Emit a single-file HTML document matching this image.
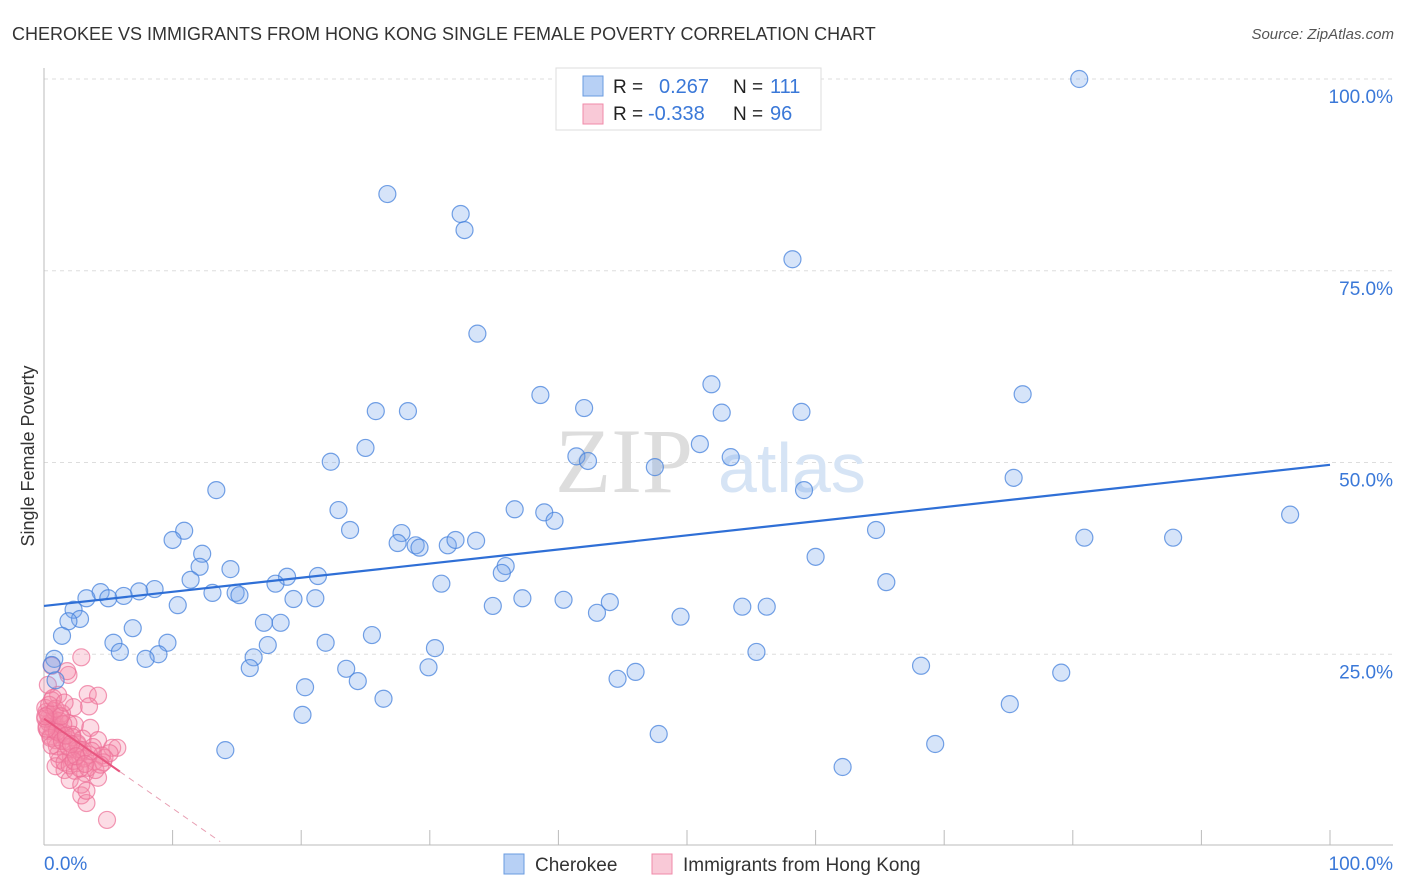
<!DOCTYPE html>
<html><head><meta charset="utf-8"><style>
body{margin:0;background:#fff;font-family:"Liberation Sans",sans-serif;}
svg{display:block}
</style></head><body>
<svg id="chart" width="1406" height="892">
<text x="12" y="40" font-size="18" fill="#333">CHEROKEE VS IMMIGRANTS FROM HONG KONG SINGLE FEMALE POVERTY CORRELATION CHART</text>
<text x="1394" y="39" font-size="15" fill="#555" font-style="italic" text-anchor="end">Source: ZipAtlas.com</text>
<text transform="translate(34,456) rotate(-90)" font-size="18" fill="#333" text-anchor="middle">Single Female Poverty</text>
<g id="grid"></g>
<text x="555" y="492" font-size="92" fill="#ddd" font-family="Liberation Serif,serif">ZIP</text>
<text x="718" y="492" font-size="70" fill="#d6e4f5">atlas</text>
<g id="marks"></g>
<g>
<rect x="556" y="68" width="265" height="62" fill="#fff" stroke="#ddd"/>
<rect x="583" y="76" width="20" height="20" fill="#b7d0f5" stroke="#6a9be0"/>
<rect x="583" y="104" width="20" height="20" fill="#f9c9d7" stroke="#f08aa8"/>
<text x="613" y="93" font-size="19" fill="#222">R =</text><text x="659" y="93" font-size="20" fill="#3a78d8">0.267</text>
<text x="733" y="93" font-size="19" fill="#222">N =</text><text x="770" y="93" font-size="20" fill="#3a78d8">111</text>
<text x="613" y="120" font-size="19" fill="#222">R =</text><text x="648" y="120" font-size="20" fill="#3a78d8">-0.338</text>
<text x="733" y="120" font-size="19" fill="#222">N =</text><text x="770" y="120" font-size="20" fill="#3a78d8">96</text>
</g>
<g>
<rect x="504" y="854" width="20" height="20" fill="#b7d0f5" stroke="#6a9be0"/>
<text x="535" y="871" font-size="19" fill="#333">Cherokee</text>
<rect x="652" y="854" width="20" height="20" fill="#f9c9d7" stroke="#f08aa8"/>
<text x="683" y="871" font-size="19" fill="#333">Immigrants from Hong Kong</text>
</g>
</svg>
<script>
const blueX=[80.5,26.7,32.4,32.7,58.2,33.7,51.9,76.1,38.6,25.8,28.3,42.0,52.7,58.9,25.0,51.0,41.4,42.3,53.4,22.3,47.5,75.4,13.4,59.1,22.9,36.6,38.9,39.7,96.9,10.9,23.8,64.7,10.0,27.8,27.5,28.9,29.2,31.4,32.0,33.6,80.9,87.8,12.3,60.0,12.1,14.5,35.9,35.6,21.3,18.9,11.4,30.9,65.5,18.0,8.6,7.4,4.4,3.3,6.2,5.0,13.1,14.9,15.2,19.4,21.1,10.4,34.9,37.2,40.4,44.0,54.3,56.2,43.0,49.5,2.3,2.8,1.9,6.9,17.1,18.4,1.4,25.5,5.4,9.6,21.9,17.4,30.4,5.9,8.9,7.9,55.4,16.3,0.8,16.0,23.5,29.9,68.2,79.1,46.0,44.6,24.4,20.3,26.4,20.1,75.1,47.8,14.1,69.3,62.1,0.6,0.9];
const blueY=[100.0,85.0,82.4,80.3,76.5,66.8,60.2,58.9,58.8,56.7,56.7,57.1,56.5,56.6,51.9,52.4,50.8,50.2,50.7,50.1,49.4,48.0,46.4,46.4,43.8,43.9,43.5,42.4,43.2,41.1,41.2,41.2,39.9,40.8,39.5,39.2,38.9,39.2,39.9,39.8,40.2,40.2,38.1,37.7,36.4,36.1,36.5,35.6,35.2,35.1,34.7,34.2,34.4,34.2,33.5,33.2,33.1,32.3,32.6,32.3,33.0,33.0,32.7,32.2,32.3,31.4,31.3,32.3,32.1,31.8,31.2,31.2,30.4,29.9,30.8,29.6,29.3,28.4,29.1,29.1,27.4,27.5,26.5,26.5,26.5,26.2,25.8,25.3,25.0,24.4,25.3,24.6,24.4,23.2,23.1,23.3,23.5,22.6,22.7,21.8,21.5,20.7,19.2,17.1,18.5,14.6,12.5,13.3,10.3,23.6,21.6];
const pinkX=[2.9,1.9,1.8,3.4,4.2,1.1,3.5,2.3,0.6,0.2,0.4,0.7,1.0,1.2,0.3,0.5,0.8,0.1,0.9,1.5,2.4,3.6,4.2,5.3,5.7,4.7,2.8,1.2,1.6,3.2,4.2,2.9,3.3,4.9,2.0,0.9,0.3,0.6,1.4,1.9,2.2,2.6,3.0,3.8,4.5,1.0,1.7,2.1,2.5,0.4,0.7,1.3,1.8,2.7,3.1,3.9,0.2,0.5,1.1,1.6,2.0,2.4,3.4,4.0,4.6,5.1,0.3,0.8,1.2,1.5,2.2,2.6,3.0,3.5,0.1,0.6,1.0,1.4,1.9,2.3,2.8,3.7,4.4,0.4,0.9,1.3,1.7,2.1,2.9,3.3,0.2,0.7,1.6,2.5,3.2,0.1];
const pinkY=[24.6,22.3,22.8,19.8,19.6,19.7,18.2,18.1,19.0,17.5,16.8,16.2,15.5,17.0,15.0,14.3,16.5,18.0,13.8,14.8,15.8,15.4,13.8,12.8,12.8,11.5,12.3,11.2,9.9,9.5,8.9,6.6,5.6,3.4,8.6,10.4,21.0,23.5,17.3,16.0,14.5,13.2,14.0,12.9,11.8,13.0,12.2,11.6,10.8,16.0,15.2,14.6,13.6,12.6,11.4,11.0,15.6,14.1,12.0,10.9,10.5,9.8,10.2,9.9,10.9,12.1,17.1,17.6,16.3,15.9,14.2,13.4,12.5,11.9,16.6,13.1,14.9,13.7,12.9,11.1,10.1,12.4,10.6,18.4,17.9,16.9,14.4,13.3,8.0,7.2,15.3,19.3,18.7,11.7,10.7,16.9];
const yTicks=[25,50,75,100];
const blueTrend=[31.3,49.7];
const pinkTrend=[16.6,-1.17];
const X0=44,X1=1330,Y0=846,PPY=7.67;
const xs=v=>X0+v*(X1-X0)/100, ys=v=>Y0-v*PPY;
const NS='http://www.w3.org/2000/svg';
function mk(tag,attrs,parent){const e=document.createElementNS(NS,tag);for(const k in attrs)e.setAttribute(k,attrs[k]);parent.appendChild(e);return e;}
const grid=document.getElementById('grid'), marks=document.getElementById('marks');
yTicks.forEach(t=>{
 const l=mk('line',{x1:44,x2:1393,y1:ys(t),y2:ys(t),stroke:'#ddd','stroke-dasharray':'4,4'},grid);
 
 
 const tx=mk('text',{x:1393,y:ys(t)+24,'font-size':19,fill:'#3a78d8','text-anchor':'end'},grid);
 tx.textContent=t.toFixed(1)+'%';
 
 
});
let ax=mk('line',{x1:44,x2:44,y1:68,y2:845,stroke:'#bbb'},grid);


ax=mk('line',{x1:44,x2:1393,y1:845,y2:845,stroke:'#bbb'},grid);


for(let i=1;i<=10;i++){const t=mk('line',{x1:xs(i*10),x2:xs(i*10),y1:830,y2:845,stroke:'#bbb'},grid);
 
 }
let xl=mk('text',{x:44,y:870,'font-size':19,fill:'#3a78d8'},grid);xl.textContent='0.0%';


xl=mk('text',{x:1393,y:870,'font-size':19,fill:'#3a78d8','text-anchor':'end'},grid);xl.textContent='100.0%';


pinkX.forEach((x,i)=>{const c=mk('circle',{cx:xs(x),cy:ys(pinkY[i]),r:8.5,fill:'rgba(244,140,170,0.3)',stroke:'rgba(236,110,150,0.7)','stroke-width':1.2},marks);
 
 });
blueX.forEach((x,i)=>{const c=mk('circle',{cx:xs(x),cy:ys(blueY[i]),r:8.5,fill:'rgba(120,165,235,0.3)',stroke:'rgba(70,130,220,0.75)','stroke-width':1.2},marks);
 
 });
let tl=mk('line',{x1:xs(0),y1:ys(blueTrend[0]),x2:xs(100),y2:ys(blueTrend[1]),stroke:'#2f6fd6','stroke-width':2.2},marks);


const pf=x=>pinkTrend[0]+pinkTrend[1]*x;
tl=mk('line',{x1:xs(0),y1:ys(pf(0)),x2:xs(5.9),y2:ys(pf(5.9)),stroke:'#e8557f','stroke-width':2},marks);


tl=mk('line',{x1:xs(5.9),y1:ys(pf(5.9)),x2:xs(13.7),y2:ys(pf(13.7)),stroke:'#e8a0b4','stroke-width':1,'stroke-dasharray':'6,5'},marks);


</script>
</body></html>
